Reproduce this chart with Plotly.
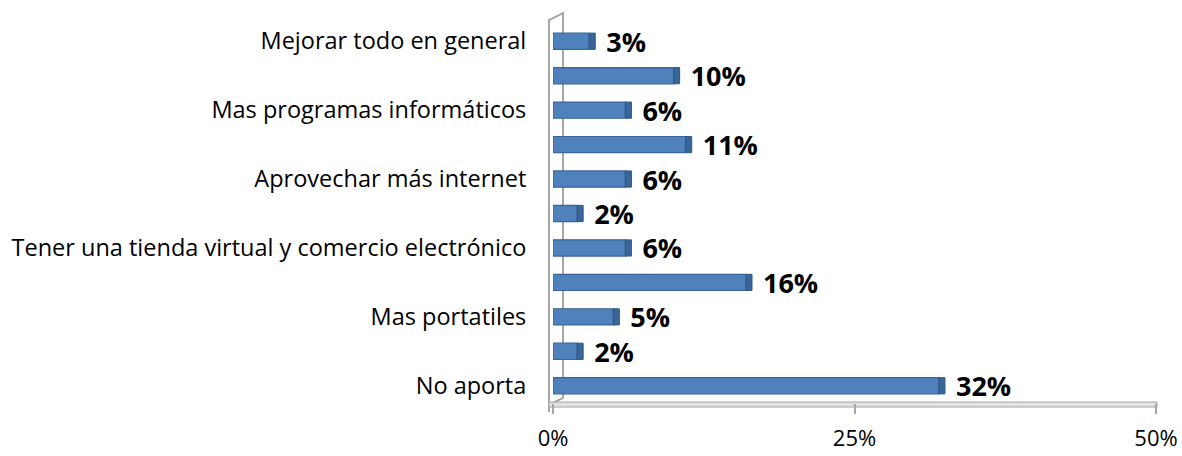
import plotly.graph_objects as go

# bottom to top
positions = list(range(11))
labels = ["No aporta", "", "Mas portatiles", "", "Tener una tienda virtual y comercio electrónico",
          "", "Aprovechar más internet", "", "Mas programas informáticos", "", "Mejorar todo en general"]
values = [32, 2, 5, 16, 6, 2, 6, 11, 6, 10, 3]
xticks = [0, 25, 50]
xticklabels = ["0%", "25%", "50%"]

W, H = 1182, 456
L, R, T, B = 553, 26, 24, 53
pw, ph = W - L - R, H - T - B
DEPTH = 0.5  # visual depth of the 3D side face, in axis units


def px(x):
    return (x - L) / pw


def py(y):
    return (H - B - y) / ph


fig = go.Figure()
fig.add_trace(go.Bar(
    x=values, y=positions, orientation="h",
    marker=dict(color="#4F81BD", line=dict(color="#3B6699", width=1.2)),
    width=0.47,
    text=[f"  {v}%" for v in values], textposition="outside",
    constraintext="none",
    textfont=dict(family="Open Sans", size=27, color="#000000", weight="bold"),
    cliponaxis=False, hoverinfo="skip",
))
# darker side face of the 3D bars
fig.add_trace(go.Bar(
    x=[DEPTH] * len(values), base=values, y=positions, orientation="h",
    marker=dict(color="#3A6598", line=dict(color="#2F5680", width=1)),
    width=0.47, hoverinfo="skip",
))

wall = dict(type="path", xref="paper", yref="paper", layer="below",
            path=(f"M {px(549)} {py(412)} L {px(549)} {py(20)} L {px(563)} {py(13)} "
                  f"L {px(563)} {py(398)} L {px(549)} {py(405)}"),
            line=dict(color="#A6A6A6", width=2))
floor = dict(type="rect", xref="paper", yref="paper", layer="below",
             x0=px(549), x1=px(1157), y0=py(407), y1=py(402),
             fillcolor="#E3E3E3", line=dict(color="#A6A6A6", width=1))

fig.update_layout(
    width=W, height=H,
    margin=dict(l=L, r=R, t=T, b=B),
    paper_bgcolor="white", plot_bgcolor="white",
    showlegend=False, barmode="overlay",
    font=dict(family="Open Sans", size=23, color="#000000"),
    shapes=[wall, floor],
    xaxis=dict(range=[0, 50], tickvals=xticks, ticktext=xticklabels,
               showgrid=False, zeroline=False, automargin=False,
               showline=False,
               ticks="outside", ticklen=10, tickcolor="#A6A6A6", tickwidth=2,
               ticklabelstandoff=6,
               tickfont=dict(size=22)),
    yaxis=dict(range=[-0.5, 10.5], tickvals=positions, ticktext=labels,
               showgrid=False, zeroline=False, automargin=False,
               showline=False,
               ticks="outside", ticklen=21, tickcolor="rgba(0,0,0,0)",
               tickfont=dict(size=23.5)),
)

fig.write_html("out.html", config={"displayModeBar": False},
               post_script="document.body.style.margin='0';")
